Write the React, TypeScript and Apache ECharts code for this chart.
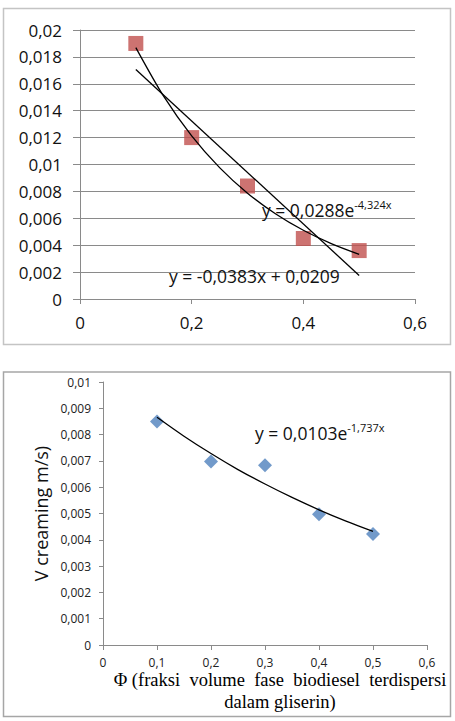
import React, { useEffect, useRef } from "react";
import * as echarts from "echarts";

// ---- Top chart data ----
const topPhi = [0.1, 0.2, 0.3, 0.4, 0.5];
const topVelocity = [0.019, 0.012, 0.0084, 0.0045, 0.0036];
const topLinearPhi = [0.1, 0.5];
const topLinearTrend = [0.01707, 0.00175];
const trendPhi = [0.1, 0.15, 0.2, 0.25, 0.3, 0.35, 0.4, 0.45, 0.5];
const topExpTrend = [0.01869, 0.01506, 0.01213, 0.00977, 0.00787, 0.00634, 0.00511, 0.00412, 0.00332];
const topXTickLabels = ["0", "0,2", "0,4", "0,6"];
const topYTickLabels = ["0", "0,002", "0,004", "0,006", "0,008", "0,01", "0,012", "0,014", "0,016", "0,018", "0,02"];
const topExpEquation = ["y = 0,0288e", "-4,324x"];
const topLinearEquation = "y = -0,0383x + 0,0209";

// ---- Bottom chart data ----
const bottomPhi = [0.1, 0.2, 0.3, 0.4, 0.5];
const bottomVelocity = [0.0085, 0.00698, 0.00683, 0.00497, 0.00422];
const bottomExpTrend = [0.00866, 0.00794, 0.00728, 0.00667, 0.00612, 0.00561, 0.00514, 0.00471, 0.00432];
const bottomXTickLabels = ["0", "0,1", "0,2", "0,3", "0,4", "0,5", "0,6"];
const bottomYTickLabels = ["0", "0,001", "0,002", "0,003", "0,004", "0,005", "0,006", "0,007", "0,008", "0,009", "0,01"];
const bottomExpEquation = ["y = 0,0103e", "-1,737x"];
const bottomYName = "V creaming m/s)";
const bottomXNameLine1 = "Φ (fraksi  volume  fase  biodiesel  terdispersi";
const bottomXNameLine2 = "dalam gliserin)";

const SANS = "'Open Sans', 'DejaVu Sans', sans-serif";
const SERIF = "'Liberation Serif', 'DejaVu Serif', serif";
const AXIS_GRAY = "#8a8a8a";
const TEXT = "#111111";

const zip = (xs: number[], ys: number[]) => xs.map((x, i) => [x, ys[i]]);

export default function App() {
  const ref = useRef<HTMLDivElement>(null);

  useEffect(() => {
    if (!ref.current) return;
    const chart = echarts.init(ref.current, undefined, { renderer: "svg" });

    const option: any = {
      animation: false,
      backgroundColor: "#ffffff",
      grid: [
        { left: 80, top: 30, width: 335, height: 269, containLabel: false },
        { left: 103, top: 382, width: 324, height: 263, containLabel: false },
      ],
      xAxis: [
        {
          type: "value",
          gridIndex: 0,
          min: 0,
          max: 0.6,
          interval: 0.2,
          axisLine: { show: true, lineStyle: { color: AXIS_GRAY, width: 1 } },
          axisTick: { show: true, length: 5, lineStyle: { color: AXIS_GRAY } },
          splitLine: { show: false },
          axisLabel: {
            margin: 15,
            fontSize: 17,
            fontFamily: SANS,
            color: TEXT,
            formatter: (v: number) => topXTickLabels[Math.round(v / 0.2)] ?? "",
          },
        },
        {
          type: "value",
          gridIndex: 1,
          min: 0,
          max: 0.6,
          interval: 0.1,
          axisLine: { show: true, lineStyle: { color: AXIS_GRAY, width: 1 } },
          axisTick: { show: true, length: 5, lineStyle: { color: AXIS_GRAY } },
          splitLine: { show: false },
          axisLabel: {
            margin: 11,
            fontSize: 12,
            fontFamily: SANS,
            color: "#222222",
            formatter: (v: number) => bottomXTickLabels[Math.round(v / 0.1)] ?? "",
          },
        },
      ],
      yAxis: [
        {
          type: "value",
          gridIndex: 0,
          min: 0,
          max: 0.02,
          interval: 0.002,
          axisLine: { show: true, lineStyle: { color: AXIS_GRAY, width: 1 } },
          axisTick: { show: true, length: 7, lineStyle: { color: AXIS_GRAY } },
          splitLine: { show: true, lineStyle: { color: AXIS_GRAY, width: 1 } },
          axisLabel: {
            margin: 18,
            fontSize: 17,
            fontFamily: SANS,
            color: TEXT,
            formatter: (v: number) => topYTickLabels[Math.round(v / 0.002)] ?? "",
          },
        },
        {
          type: "value",
          gridIndex: 1,
          min: 0,
          max: 0.01,
          interval: 0.001,
          name: bottomYName,
          nameLocation: "middle",
          nameRotate: 90,
          nameGap: 49,
          nameTextStyle: { fontSize: 18, fontFamily: SANS, color: TEXT },
          axisLine: { show: true, lineStyle: { color: AXIS_GRAY, width: 1 } },
          axisTick: { show: true, length: 4, lineStyle: { color: AXIS_GRAY } },
          splitLine: { show: false },
          axisLabel: {
            margin: 12,
            fontSize: 12,
            fontFamily: SANS,
            color: "#222222",
            formatter: (v: number) => bottomYTickLabels[Math.round(v / 0.001)] ?? "",
          },
        },
      ],
      series: [
        {
          type: "scatter",
          xAxisIndex: 0,
          yAxisIndex: 0,
          symbol: "rect",
          symbolSize: 15,
          itemStyle: { color: "#C0504D" },
          data: zip(topPhi, topVelocity),
          z: 2,
        },
        {
          type: "line",
          xAxisIndex: 0,
          yAxisIndex: 0,
          symbol: "none",
          lineStyle: { color: "#000000", width: 1.3 },
          data: zip(topLinearPhi, topLinearTrend),
          z: 3,
        },
        {
          type: "line",
          xAxisIndex: 0,
          yAxisIndex: 0,
          symbol: "none",
          smooth: 0.3,
          lineStyle: { color: "#000000", width: 1.3 },
          data: zip(trendPhi, topExpTrend),
          z: 3,
        },
        {
          type: "scatter",
          xAxisIndex: 1,
          yAxisIndex: 1,
          symbol: "diamond",
          symbolSize: 14,
          itemStyle: { color: "#4F81BD" },
          data: zip(bottomPhi, bottomVelocity),
          z: 2,
        },
        {
          type: "line",
          xAxisIndex: 1,
          yAxisIndex: 1,
          symbol: "none",
          smooth: 0.3,
          lineStyle: { color: "#000000", width: 1.3 },
          data: zip(trendPhi, bottomExpTrend),
          z: 3,
        },
      ],
      graphic: [
        {
          type: "rect",
          shape: { x: 3.5, y: 8.5, width: 447, height: 336 },
          style: { fill: "none", stroke: "#c4c4c4", lineWidth: 1.5 },
          silent: true,
          z: -1,
        },
        {
          type: "rect",
          shape: { x: 3.5, y: 372, width: 447, height: 344.5 },
          style: { fill: "none", stroke: "#a6a6a6", lineWidth: 1.5 },
          silent: true,
          z: -1,
        },
        {
          type: "text",
          x: 262,
          y: 209.5,
          z: 10,
          style: {
            text: `{a|${topExpEquation[0]}}{b|${topExpEquation[1]}}`,
            verticalAlign: "middle",
            rich: {
              a: { fontSize: 17.5, fontFamily: SANS, fill: TEXT, lineHeight: 22 },
              b: { fontSize: 11, fontFamily: SANS, fill: TEXT, lineHeight: 12, verticalAlign: "top" },
            },
          },
        },
        {
          type: "text",
          x: 169,
          y: 276,
          z: 10,
          style: {
            text: topLinearEquation,
            verticalAlign: "middle",
            fontSize: 17.5,
            fontFamily: SANS,
            fill: TEXT,
          },
        },
        {
          type: "text",
          x: 255,
          y: 433,
          z: 10,
          style: {
            text: `{a|${bottomExpEquation[0]}}{b|${bottomExpEquation[1]}}`,
            verticalAlign: "middle",
            rich: {
              a: { fontSize: 17.5, fontFamily: SANS, fill: TEXT, lineHeight: 22 },
              b: { fontSize: 11, fontFamily: SANS, fill: TEXT, lineHeight: 12, verticalAlign: "top" },
            },
          },
        },
        {
          type: "text",
          x: 280,
          y: 680,
          z: 10,
          style: {
            text: bottomXNameLine1,
            align: "center",
            verticalAlign: "middle",
            fontSize: 18.5,
            fontFamily: SERIF,
            fill: "#000000",
          },
        },
        {
          type: "text",
          x: 280,
          y: 702,
          z: 10,
          style: {
            text: bottomXNameLine2,
            align: "center",
            verticalAlign: "middle",
            fontSize: 18.5,
            fontFamily: SERIF,
            fill: "#000000",
          },
        },
      ],
    };

    chart.setOption(option);
    return () => chart.dispose();
  }, []);

  return (
    <div
      ref={ref}
      style={{ position: "absolute", left: 0, top: 0, width: 455, height: 721, background: "#fff" }}
    />
  );
}
